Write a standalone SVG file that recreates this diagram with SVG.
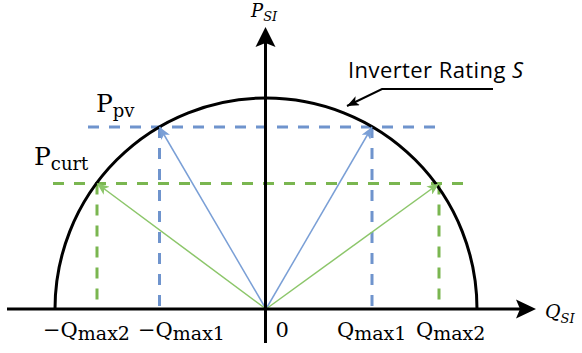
<svg xmlns="http://www.w3.org/2000/svg" width="582" height="353" viewBox="0 0 582 353">
  <style>
    .axis { stroke: #000; stroke-width: 3; fill: none; }
    .dblue { stroke: #6f94cd; stroke-width: 3; stroke-dasharray: 11 10; fill: none; }
    .dgreen { stroke: #7ab650; stroke-width: 3; stroke-dasharray: 11 10; fill: none; }
    .ablue { stroke: #7a9fd6; stroke-width: 1.5; fill: none; }
    .agreen { stroke: #8cc66a; stroke-width: 1.5; fill: none; }
    .m { font-family: "DejaVu Serif", "Liberation Serif", serif; fill: #000; }
    .mi { font-family: "DejaVu Serif", "Liberation Serif", serif; font-style: italic; fill: #000; }
    .lbl { font-family: "Open Sans", "Liberation Sans", sans-serif; fill: #000; }
  </style>
  <defs>
    <marker id="hb" viewBox="0 0 12 10" markerWidth="12" markerHeight="10" refX="12" refY="5" orient="auto" markerUnits="userSpaceOnUse">
      <path d="M0,0 L12,5 L0,10 L3,5 z" fill="#7a9fd6"/>
    </marker>
    <marker id="hg" viewBox="0 0 12 10" markerWidth="12" markerHeight="10" refX="12" refY="5" orient="auto" markerUnits="userSpaceOnUse">
      <path d="M0,0 L12,5 L0,10 L3,5 z" fill="#8cc66a"/>
    </marker>
    <marker id="hk" viewBox="0 0 12 10" markerWidth="12" markerHeight="10" refX="12" refY="5" orient="auto" markerUnits="userSpaceOnUse">
      <path d="M0,0 L12,5 L0,10 L3,5 z" fill="#000"/>
    </marker>
  </defs>
  <rect width="582" height="353" fill="#fff"/>

  <!-- dashed guides -->
  <g id="guides">
    <line class="dblue" x1="88" y1="127" x2="438" y2="127"/>
    <line class="dgreen" x1="53" y1="183.5" x2="467" y2="183.5"/>
    <line class="dblue" x1="159.5" y1="127" x2="159.5" y2="308"/>
    <line class="dblue" x1="372" y1="127" x2="372" y2="308"/>
    <line class="dgreen" x1="97" y1="183.5" x2="97" y2="308"/>
    <line class="dgreen" x1="439" y1="183.5" x2="439" y2="308"/>
  </g>

  <!-- rating circle -->
  <g id="circle">
    <path class="axis" d="M55,309 A211,211 0 0 1 477,309"/>
  </g>

  <!-- connectors: phasor arrows -->
  <g id="connectors">
    <line class="ablue" x1="266" y1="309" x2="159.5" y2="127" marker-end="url(#hb)"/>
    <line class="ablue" x1="266" y1="309" x2="372" y2="127" marker-end="url(#hb)"/>
    <line class="agreen" x1="266" y1="309" x2="97" y2="183.5" marker-end="url(#hg)"/>
    <line class="agreen" x1="266" y1="309" x2="439" y2="183.5" marker-end="url(#hg)"/>
    <polyline points="493,89 382,89 347,106" fill="none" stroke="#000" stroke-width="2" marker-end="url(#hk)"/>
  </g>

  <!-- axes -->
  <g id="axes">
    <line class="axis" x1="265.5" y1="343" x2="265.5" y2="42"/>
    <path d="M265.5,27 L275.5,47 L265.5,43 L255.5,47 z" fill="#000"/>
    <line class="axis" x1="7" y1="309" x2="520" y2="309"/>
    <path d="M536,309 L516,318.5 L520,309 L516,299.5 z" fill="#000"/>
  </g>

  <!-- labels -->
  <g id="label-psi">
    <text class="mi" x="251" y="16.5" font-size="18">P<tspan font-size="13" dy="4.5">SI</tspan></text>
  </g>
  <g id="label-qsi">
    <text class="mi" x="545" y="318" font-size="19">Q<tspan font-size="13" dy="5">SI</tspan></text>
  </g>
  <g id="label-ppv">
    <text class="m" x="96" y="112" font-size="25">P<tspan font-size="18" dy="5">pv</tspan></text>
  </g>
  <g id="label-pcurt">
    <text class="m" x="34" y="165" font-size="25">P<tspan font-size="18" dy="5">curt</tspan></text>
  </g>
  <g id="label-rating">
    <text class="lbl" x="348" y="78" font-size="22" textLength="175">Inverter Rating <tspan font-style="italic">S</tspan></text>
  </g>
  <g id="label-qmax2n">
    <text class="m" x="43" y="337" font-size="21">−Q<tspan font-size="19" dy="3">max2</tspan></text>
  </g>
  <g id="label-qmax1n">
    <text class="m" x="138" y="337" font-size="21">−Q<tspan font-size="19" dy="3">max1</tspan></text>
  </g>
  <g id="label-zero">
    <text class="m" x="275.5" y="337" font-size="21">0</text>
  </g>
  <g id="label-qmax1">
    <text class="m" x="337" y="337" font-size="21">Q<tspan font-size="19" dy="3">max1</tspan></text>
  </g>
  <g id="label-qmax2">
    <text class="m" x="416" y="337" font-size="21">Q<tspan font-size="19" dy="3">max2</tspan></text>
  </g>
</svg>
